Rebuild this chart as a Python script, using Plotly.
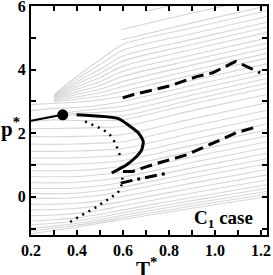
import plotly.graph_objects as go

# ---------------- data ----------------
ISO_T = [0.2, 0.3, 0.4, 0.5, 0.6, 0.9, 1.225]
ISO_LOW = [
    [-1.16, -1.06, -0.95, -0.83, -0.71, -0.36, 0.00],
    [-1.08, -0.99, -0.89, -0.78, -0.65, -0.29, 0.08],
    [-0.99, -0.92, -0.83, -0.72, -0.58, -0.21, 0.17],
    [-0.88, -0.83, -0.75, -0.64, -0.50, -0.12, 0.27],
    [-0.76, -0.72, -0.66, -0.55, -0.41, -0.02, 0.38],
    [-0.59, -0.57, -0.52, -0.42, -0.28, 0.12, 0.53],
    [-0.41, -0.40, -0.36, -0.27, -0.14, 0.27, 0.69],
    [-0.23, -0.23, -0.20, -0.12, 0.01, 0.43, 0.86],
    [-0.04, -0.05, -0.02, 0.05, 0.17, 0.60, 1.04],
    [0.11, 0.10, 0.12, 0.19, 0.31, 0.75, 1.20],
    [0.27, 0.26, 0.28, 0.35, 0.46, 0.91, 1.37],
    [0.45, 0.44, 0.46, 0.52, 0.62, 1.08, 1.55],
    [0.64, 0.63, 0.64, 0.70, 0.79, 1.25, 1.73],
    [0.83, 0.82, 0.83, 0.88, 0.96, 1.43, 1.91],
    [1.03, 1.02, 1.03, 1.07, 1.14, 1.61, 2.10],
    [1.22, 1.22, 1.23, 1.26, 1.32, 1.80, 2.29],
    [1.43, 1.43, 1.44, 1.47, 1.52, 2.00, 2.50],
    [1.66, 1.65, 1.66, 1.69, 1.73, 2.22, 2.72],
    [1.90, 1.89, 1.90, 1.92, 1.96, 2.45, 2.96],
    [2.14, 2.15, 2.16, 2.18, 2.21, 2.71, 3.22],
    [2.37, 2.42, 2.40, 2.40, 2.42, 2.92, 3.43],
]
ISO_FAN = [
    [2.38, 2.52, 2.58, 2.56, 2.55, 3.05, 3.57],
    [2.39, 2.54, 2.63, 2.66, 2.70, 3.20, 3.72],
    [2.40, 2.56, 2.69, 2.77, 2.85, 3.35, 3.87],
    [2.71, 2.78, 2.81, 2.88, 3.00, 3.50, 4.02],
    [2.90, 2.94, 2.98, 3.05, 3.16, 3.66, 4.18],
    [None, 3.00, 3.07, 3.16, 3.32, 3.83, 4.36],
    [None, 3.03, 3.14, 3.27, 3.47, 3.98, 4.51],
    [None, 3.06, 3.22, 3.38, 3.63, 4.14, 4.67],
    [None, 3.08, 3.30, 3.50, 3.79, 4.30, 4.83],
    [None, 3.11, 3.38, 3.62, 3.95, 4.46, 4.99],
    [None, 3.13, 3.46, 3.75, 4.11, 4.63, 5.17],
    [None, 3.15, 3.54, 3.88, 4.27, 4.79, 5.33],
    [None, 3.17, 3.62, 4.01, 4.43, 4.95, 5.49],
    [None, 3.19, 3.70, 4.16, 4.61, 5.13, 5.67],
    [None, 3.21, 3.79, 4.31, 4.79, 5.31, 5.85],
]
TOP_T = [[0.594, 0.9, 1.225], [0.594, 0.9, 1.225], [0.696, 0.9, 1.225]]
TOP_P = [[4.94, 5.47, 6.00], [5.26, 5.78, 6.30], [5.84, 6.14, 6.60]]

COEX_T = [0.2, 0.338]
COEX_P = [2.39, 2.58]
CRIT_T = [0.338]
CRIT_P = [2.58]

SOLID_T = [0.398, 0.58, 0.63, 0.667, 0.688, 0.681, 0.652, 0.616, 0.551]
SOLID_P = [2.58, 2.46, 2.22, 2.01, 1.74, 1.48, 1.22, 1.01, 0.75]

DOT_T = [0.435, 0.471, 0.515, 0.543, 0.558, 0.572, 0.584, 0.591, None,
         0.597, 0.599, 0.59, 0.58, 0.543, 0.514, 0.485, 0.452, 0.42, 0.388, 0.355]
DOT_P = [2.37, 2.25, 2.11, 1.95, 1.80, 1.59, 1.38, 1.22, None,
         0.60, 0.45, 0.31, 0.16, -0.05, -0.17, -0.32, -0.45, -0.59, -0.71, -0.86]

DASH_UP_T = [0.599, 0.643, 0.804, 0.92, 0.99, 1.09, 1.196]
DASH_UP_P = [3.11, 3.21, 3.49, 3.78, 3.90, 4.26, 3.90]

DASH_LO_T = [0.60, 0.643, 0.687, 0.761, 0.877, 0.991, 1.094, 1.187]
DASH_LO_P = [0.80, 0.80, 0.91, 1.08, 1.32, 1.70, 2.02, 2.21]

DASHDOT_T = [0.59, 0.66, 0.79]
DASHDOT_P = [0.43, 0.55, 0.74]

X_TICKS = [0.2, 0.3, 0.4, 0.5, 0.6, 0.7, 0.8, 0.9, 1.0, 1.1, 1.2]
X_TEXT = ["0.2", "", "0.4", "", "0.6", "", "0.8", "", "1.0", "", "1.2"]
Y_TICKS = [-1, 0, 1, 2, 3, 4, 5, 6]
Y_TEXT = ["", "0", "", "2", "", "4", "", "6"]

# ---------------- figure ----------------
GRAY = "rgb(214,214,214)"
fig = go.Figure()

def add_gray(ts, ps):
    xs = [t for t, p in zip(ts, ps) if p is not None]
    ys = [p for p in ps if p is not None]
    fig.add_trace(go.Scatter(x=xs, y=ys, mode="lines",
                             line=dict(color=GRAY, width=1.1, shape="spline", smoothing=0.8),
                             hoverinfo="skip", showlegend=False))

for row in ISO_LOW:
    add_gray(ISO_T, row)
for row in ISO_FAN:
    add_gray(ISO_T, row)
for ts, ps in zip(TOP_T, TOP_P):
    add_gray(ts, ps)

fig.add_trace(go.Scatter(x=COEX_T, y=COEX_P, mode="lines",
                         line=dict(color="black", width=2), showlegend=False))
fig.add_trace(go.Scatter(x=SOLID_T, y=SOLID_P, mode="lines",
                         line=dict(color="black", width=3, shape="spline", smoothing=0.6),
                         showlegend=False))
fig.add_trace(go.Scatter(x=DOT_T, y=DOT_P, mode="lines",
                         line=dict(color="black", width=2.5, dash="2px,5px"),
                         connectgaps=False, showlegend=False))
fig.add_trace(go.Scatter(x=DASH_UP_T, y=DASH_UP_P, mode="lines",
                         line=dict(color="black", width=3, dash="12px,6px"), showlegend=False))
fig.add_trace(go.Scatter(x=DASH_LO_T, y=DASH_LO_P, mode="lines",
                         line=dict(color="black", width=3, dash="12px,6px"), showlegend=False))
fig.add_trace(go.Scatter(x=DASHDOT_T, y=DASHDOT_P, mode="lines",
                         line=dict(color="black", width=3, dash="12px,5px,3px,5px"), showlegend=False))
fig.add_trace(go.Scatter(x=CRIT_T, y=CRIT_P, mode="markers",
                         marker=dict(color="black", size=11), showlegend=False))

FONT = "Liberation Serif"
axis_common = dict(showgrid=False, zeroline=False, showline=True, linecolor="black",
                   linewidth=2, mirror="ticks", ticks="inside", ticklen=5, tickwidth=1.5,
                   tickcolor="black", automargin=False, ticklabeloverflow="allow",
                   tickfont=dict(family=FONT, size=16, color="black", weight="bold"))
fig.update_xaxes(range=[0.2, 1.226], tickmode="array", tickvals=X_TICKS, ticktext=X_TEXT,
                 **axis_common)
fig.update_yaxes(range=[-1.2, 6.0], tickmode="array", tickvals=Y_TICKS, ticktext=Y_TEXT,
                 **axis_common)

fig.add_annotation(xref="paper", yref="paper", x=0.49, y=-0.14, text="T<sup>*</sup>",
                   showarrow=False, font=dict(family=FONT, size=21, color="black", weight="bold"),
                   xanchor="center", yanchor="middle")
fig.add_annotation(xref="paper", yref="paper", x=-0.085, y=0.47, text="p<sup>*</sup>",
                   showarrow=False, font=dict(family=FONT, size=21, color="black", weight="bold"),
                   xanchor="center", yanchor="middle")
fig.add_annotation(x=1.035, y=-0.69, text="C<sub>1</sub> case", showarrow=False,
                   font=dict(family=FONT, size=19, color="black", weight="bold"),
                   xanchor="center", yanchor="middle")

fig.update_layout(width=273, height=275, margin=dict(l=31, r=6, t=6, b=40),
                  paper_bgcolor="white", plot_bgcolor="white")
fig.write_html("out.html", config={"displayModeBar": False},
               post_script="document.body.style.margin='0';document.body.style.padding='0';")
